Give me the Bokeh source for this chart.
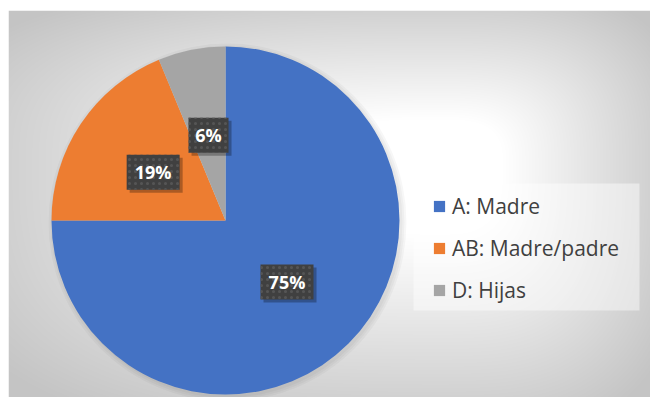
import numpy as np
from bokeh.plotting import figure
from bokeh.models import ColumnDataSource, Range1d, Legend, LegendItem, BoxAnnotation
from bokeh.core.properties import value
from bokeh.embed import file_html
from bokeh.resources import INLINE

# ---- data ----
categories = ["A: Madre", "AB: Madre/padre", "D: Hijas"]
counts = [12, 3, 1]
colors = ["#4472C4", "#ED7D31", "#A5A5A5"]

# ---- layout (pixel-like data space) ----
W, H = 642, 387
cx, cy, R = 217, 177, 174

total = float(sum(counts))
frac = np.array(counts) / total
cum = np.concatenate([[0.0], np.cumsum(frac)])
start = np.pi / 2 - 2 * np.pi * cum[:-1]
end = np.pi / 2 - 2 * np.pi * cum[1:]
mid = (start + end) / 2
labels = [f"{round(f * 100)}%" for f in frac]
lx = cx + 0.5 * R * np.cos(mid)
ly = cy + 0.5 * R * np.sin(mid)
bw = [14 + 13 * len(s) for s in labels]

src = ColumnDataSource(dict(cat=categories, start=start, end=end, color=colors))
lab = ColumnDataSource(dict(x=lx, y=ly, text=labels, w=bw))
shadow = ColumnDataSource(dict(x=lx + 3, y=ly - 3, w=bw))

p = figure(width=W + 8, height=H + 10, x_range=Range1d(0, W), y_range=Range1d(0, H),
           output_backend="svg", toolbar_location=None, x_axis_type=None, y_axis_type=None,
           min_border=0, min_border_top=10, min_border_left=8)
p.outline_line_color = None
p.grid.visible = False
p.border_fill_color = "white"

# ---- radial-ish background gradient ----
gx, gy = 432, 232  # centre of bright area (data coords)
xs = np.arange(W) + 0.5
ys = np.arange(H) + 0.5
X, Y = np.meshgrid(xs, ys)
ax = np.where(X < gx, gx, W - gx)
ay = np.where(Y < gy, gy, H - gy)
t = ((np.abs(X - gx) / ax) ** 3 + (np.abs(Y - gy) / ay) ** 3) ** (1 / 3)
g = 255 - 52 * np.clip((t - 0.3) / 0.8, 0, 1.2)
g = np.clip(g, 196, 255).astype(np.uint32)
img = (255 << 24) | (g << 16) | (g << 8) | g
p.image_rgba(image=[img.astype(np.uint32)], x=0, y=0, dw=W, dh=H)

# soft pie shadow
for k in range(3):
    p.circle(x=cx + 2, y=cy - 2, radius=R + 1 + 2 * k, fill_color="black", fill_alpha=0.03,
             line_color=None)

w = p.wedge(x=cx, y=cy, radius=R, start_angle="start", end_angle="end", direction="clock",
            fill_color="color", line_color=None, source=src)

# data label boxes
p.rect(x="x", y="y", width="w", height=35, width_units="screen", height_units="screen",
       fill_color="black", fill_alpha=0.28, line_color=None, source=shadow)
p.rect(x="x", y="y", width="w", height=35, width_units="screen", height_units="screen",
       fill_color="#404040", line_color=None, hatch_pattern="dot", hatch_color="#555555",
       hatch_scale=6, hatch_weight=1, source=lab)
p.text(x="x", y="y", text="text", text_align="center", text_baseline="middle",
       text_color="white", text_font=value("Open Sans"), text_font_style="bold",
       text_font_size="18px", source=lab)

# legend background
p.add_layout(BoxAnnotation(left=405, right=631, bottom=87, top=214,
                           fill_color="white", fill_alpha=0.45, line_color=None))
legend = Legend(items=[LegendItem(label=c, renderers=[w], index=i) for i, c in enumerate(categories)],
                location=(424, 93), padding=0, margin=0, spacing=13,
                glyph_width=14, glyph_height=14, label_height=29, label_standoff=6,
                label_text_font="Open Sans", label_text_font_size="21px", label_text_color="#404040",
                background_fill_alpha=0, border_line_color=None)
p.add_layout(legend)

open("out.html", "w").write(file_html(p, INLINE))
